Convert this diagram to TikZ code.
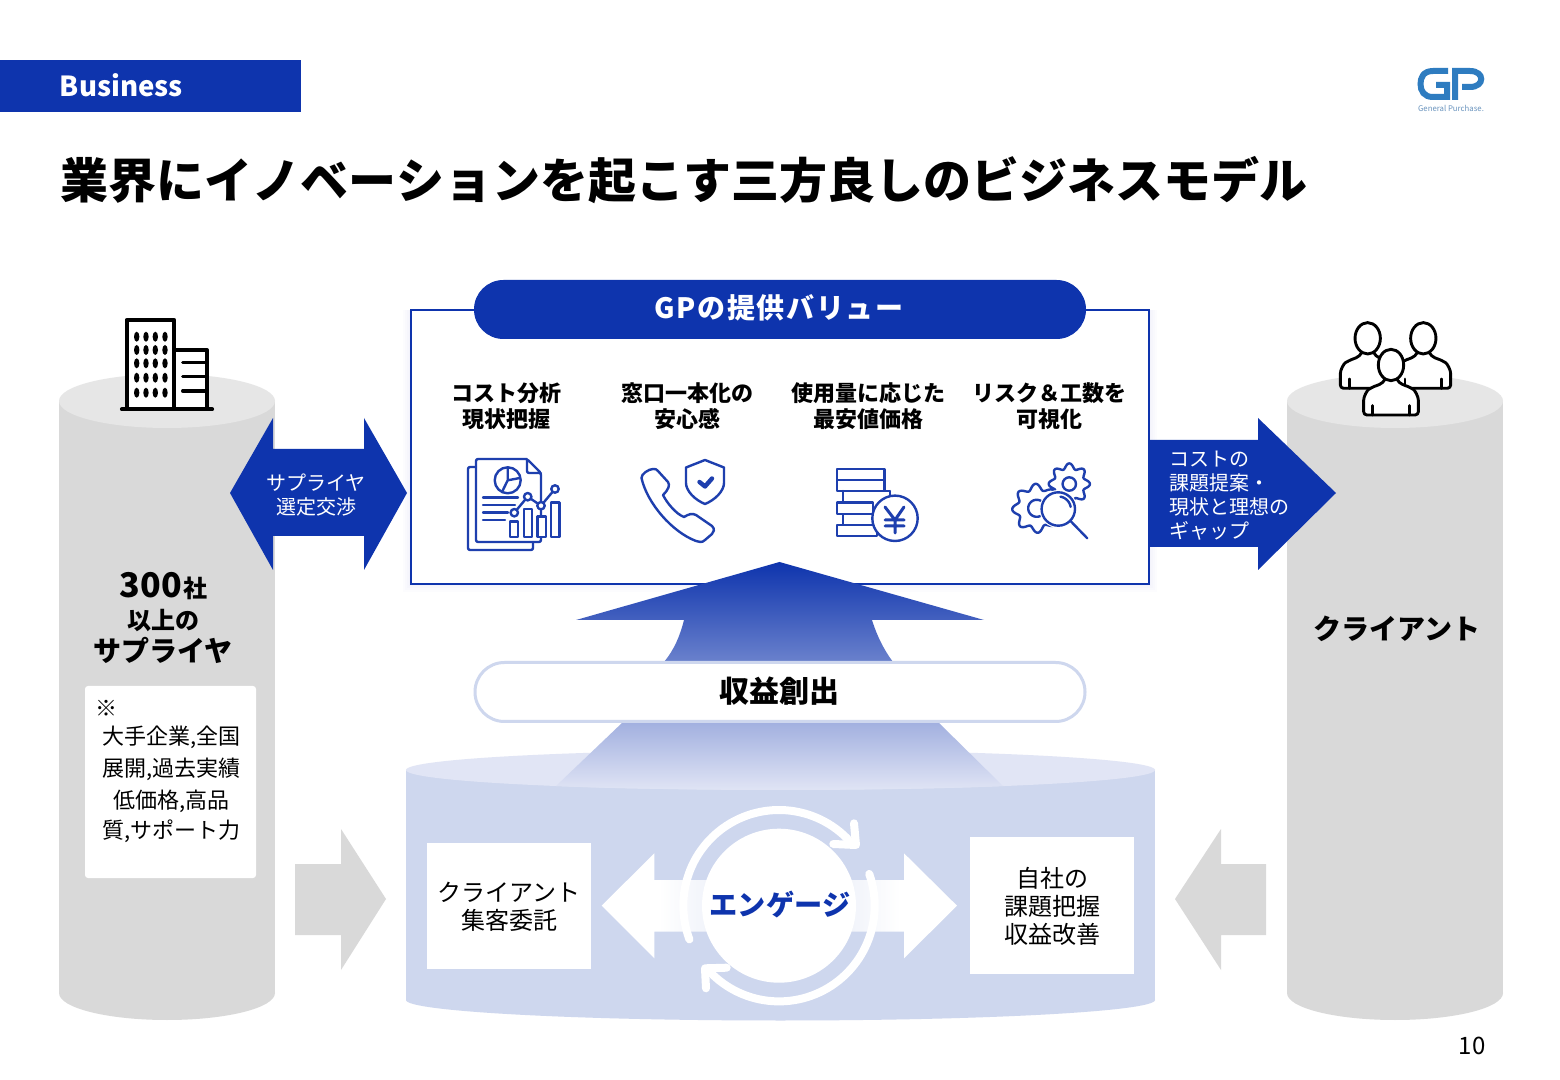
\documentclass[tikz,border=0pt]{standalone}
\usepackage{fontspec}
\setmainfont{Noto Sans CJK JP}
\usetikzlibrary{calc}
\definecolor{gpblue}{HTML}{0E34AD}
\definecolor{cylbody}{HTML}{D9D9D9}
\definecolor{cyltop}{HTML}{E6E6E6}
\definecolor{lowbody}{HTML}{CED7EE}
\definecolor{lowtop}{HTML}{E1E5F5}
\definecolor{logoblue}{HTML}{2E7CC0}
\definecolor{logotext}{HTML}{6A94BE}
\definecolor{fademid}{HTML}{DDE3F3}
\definecolor{iconblue}{HTML}{1E3FAE}
\pgfdeclarehorizontalshading{arrowfade}{100bp}{color(0bp)=(white); color(33bp)=(white); color(50bp)=(fademid); color(67bp)=(white); color(100bp)=(white)}
\tikzset{
  txt/.style={inner sep=0pt,outer sep=0pt,align=center},
  ic/.style={draw=iconblue,line width=1.2pt,line join=round,line cap=round},
  ppl/.style={draw=black,line width=1.45pt,line join=round,line cap=round},
  ring/.style={draw=white,line width=4pt,line cap=round,line join=round},
}
\newcommand{\cyl}[4]{%
  \fill[#4] (#1-108,#2) rectangle (#1+108,#3);
  \fill[#4] (#1,#3) ellipse (108 and 27);
}
\newcommand{\gpperson}[2]{%
\begin{scope}[shift={(#1,#2)},x=0.16667pt,y=-0.16667pt]
  \filldraw[ppl,fill=white,rounded corners=1.6pt] (-18,43) .. controls (-25,58) and (-45,62) .. (-58,68) .. controls (-72,76) and (-82,95) .. (-82,115) -- (-82,150) -- (82,150) -- (82,115) .. controls (82,95) and (72,76) .. (58,68) .. controls (45,62) and (25,58) .. (18,43);
  \filldraw[ppl,fill=white] (0,0) ellipse (38 and 47);
  \draw[ppl] (-55,122) -- (-55,150) (55,122) -- (55,150);
\end{scope}}
\begin{document}
\begin{tikzpicture}[x=0.5pt,y=-0.5pt]
\useasboundingbox (0,0) rectangle (1560,1080);
\fill[white] (0,0) rectangle (1560,1080);
% header
\fill[gpblue] (0,60) rectangle (301,112);
\node[txt,anchor=west,text=white,font=\fontsize{13.8}{18}\selectfont\bfseries] (hdr) at (60,85.5) {Business};
\node[txt,anchor=west,font=\fontsize{24}{28}\selectfont\bfseries] (title) at (61,180) {業界にイノベーションを起こす三方良しのビジネスモデル};
% logo
\draw[logoblue,line width=3pt] (1448,71) -- (1433,71) .. controls (1423,71) and (1420.5,78) .. (1420.5,84) .. controls (1420.5,91) and (1424,97) .. (1433,97) -- (1447,97) -- (1447,85) -- (1436,85);
\draw[logoblue,line width=3pt] (1455,100) -- (1455,71) -- (1470,71) .. controls (1485,71) and (1485,87) .. (1470,87) -- (1462,87);
\node[txt,text=logotext,font=\fontsize{3.9}{5}\selectfont] (logotxt) at (1451,108) {General Purchase.};
% cylinders
\cyl{167}{401}{993}{cylbody}
\fill[cyltop] (167,401) ellipse (108 and 27);
\cyl{1395}{401}{993}{cylbody}
\fill[cyltop] (1395,401) ellipse (108 and 27);
% lower cylinder
\fill[lowbody] (406,770) rectangle (1155,1000);
\fill[lowbody] (780.5,1000) ellipse (374.5 and 20.5);
\fill[lowtop] (780.5,770) ellipse (374.5 and 20);
% value box
\foreach \d in {2,4,6,8}{\fill[gpblue,opacity=.012] (411-\d,310) rectangle (1149+\d,584+\d);}
\filldraw[draw=gpblue,fill=white,line width=1pt] (411,310) rectangle (1149,584);
% big arrow
\shade[top color=gpblue,bottom color=lowtop] (779.5,562) -- (984,620) -- (872,620) .. controls (877,636) and (884,650) .. (893,662) -- (938,722) -- (1003,786) .. controls (900,791) and (660,791) .. (556,786) -- (623,722) -- (664,662) .. controls (674,650) and (680,636) .. (684,620) -- (576,620) -- cycle;
% pills
\node[fill=gpblue,rounded corners=14.7pt,minimum width=306pt,minimum height=29.5pt,inner sep=0pt,outer sep=0pt] (valpill) at (780,309.5) {};
\node[txt,text=white,font=\fontsize{14}{16}\selectfont\bfseries] (valtxt) at (779,308) {\addfontfeature{LetterSpace=6}GPの提供バリュー};
\node[draw=lowbody,line width=1.5pt,fill=white,rounded corners=14.7pt,minimum width=305pt,minimum height=29.5pt,inner sep=0pt,outer sep=0pt] (profit) at (780,692) {};
\node[txt,font=\fontsize{15}{16}\selectfont\bfseries] (profittxt) at (779,691) {収益創出};
% item headings
\node[txt,font=\fontsize{11}{13}\selectfont\bfseries] (h1) at (506,406) {コスト分析\\現状把握};
\node[txt,font=\fontsize{11}{13}\selectfont\bfseries] (h2) at (687,406) {窓口一本化の\\安心感};
\node[txt,font=\fontsize{11}{13}\selectfont\bfseries] (h3) at (868,406) {使用量に応じた\\最安値価格};
\node[txt,font=\fontsize{11}{13}\selectfont\bfseries] (h4) at (1049,406) {リスク＆工数を\\可視化};
% document icon
\draw[ic,rounded corners=1pt] (476,467) -- (468,467) -- (468,550) -- (533,550) -- (533,542);
\draw[ic,rounded corners=1pt] (527,459) -- (476,459) -- (476,542) -- (541,542) -- (541,473) -- (527,459) -- (527,473) -- (541,473);
\draw[ic] (507.7,480.3) circle (13);
\draw[ic] (507.7,480.3) -- (507.7,467.3) (507.7,480.3) -- (520,478) (507.7,480.3) -- (502,492);
\draw[ic] (483,497.7) -- (518,497.7) (483,505) -- (515,505) (483,512.7) -- (508,512.7) (483,520) -- (505,520);
\filldraw[ic,fill=white] (510,521.7) rectangle (518,537);
\filldraw[ic,fill=white] (524,509) rectangle (532,537);
\filldraw[ic,fill=white] (537.3,516.7) rectangle (545.7,537);
\filldraw[ic,fill=white] (551,502.7) rectangle (559.3,537);
\draw[ic] (514.3,512.7) -- (527.7,496.7) -- (541,505.7) -- (555,489);
\filldraw[ic,fill=white] (514.3,512.7) circle (3.7);
\filldraw[ic,fill=white] (527.7,496.7) circle (3.7);
\filldraw[ic,fill=white] (541,505.7) circle (3.7);
\filldraw[ic,fill=white] (555,489) circle (3.7);
% phone icon
\draw[ic] (641.5,478) .. controls (641,474) and (649,469) .. (653,469) .. controls (655,468) and (657,470) .. (658,471) -- (668,482) .. controls (670,485) and (669,489) .. (663,495) .. controls (667,503) and (676,514) .. (684,517) .. controls (689,514) and (692,513) .. (696,515) -- (712,526) .. controls (715,529) and (714,532) .. (712,534) -- (705,540) .. controls (702,543) and (699,542) .. (696,541) .. controls (672,532) and (647,503) .. (641.5,478) -- cycle;
\draw[ic] (705,460) -- (724,467.5) -- (724,483) .. controls (724,491) and (715,500) .. (705,504) .. controls (695,500) and (686,491) .. (686,483) -- (686,467.5) -- cycle;
\draw[ic,line width=2.2pt] (699.5,482) -- (705,486.5) -- (712,478.5);
% coin icon
\draw[ic] (837,469) rectangle (884.3,480) (837,480) rectangle (884.3,491);
\draw[ic] (843,491) -- (843,502.7) (890,491) -- (843,491) (890,491) -- (890,496);
\draw[ic] (837,502.7) rectangle (873,514) (843,514) rectangle (873,525) (837,525) rectangle (877,536);
\filldraw[ic,fill=white] (895,518.3) circle (22.7);
\draw[ic,line width=1.5pt] (885,507) -- (895,520) -- (904,507) (895,520) -- (895,533) (885,520) -- (904,520) (885,526) -- (904,526);
% gears icon
\filldraw[ic,fill=white] plot[domain=0:360,samples=145] ({1069.3+(18+2.6*cos(8*\x))*cos(\x)},{484+(18+2.6*cos(8*\x))*sin(\x)}) -- cycle;
\draw[ic] (1069.3,484) circle (6.7);
\filldraw[ic,fill=white] plot[domain=0:360,samples=145] ({1036.7+(21.5+3*cos(8*\x+20))*cos(\x)},{508.3+(21.5+3*cos(8*\x+20))*sin(\x)}) -- cycle;
\draw[ic] plot[domain=60:300,samples=40] ({1036.7+8.5*cos(\x)},{508.3+8.5*sin(\x)});
\fill[white] (1058.3,509) circle (19);
\draw[ic] (1058.3,509) circle (16.7);
\draw[ic] plot[domain=-80:-10,samples=15] ({1058.3+12.5*cos(\x)},{509+12.5*sin(\x)});
\draw[ic] (1070.3,520.8) -- (1087.3,538.3);
% building
\filldraw[draw=black,fill=white,line width=2pt,line join=round] (126.7,409) -- (126.7,320) -- (174.3,320) -- (174.3,409) -- cycle;
\filldraw[draw=black,fill=white,line width=2pt,line join=round] (174.3,350) -- (207,350) -- (207,409) -- (174.3,409) -- cycle;
\draw[black,line width=2.1pt,line cap=round] (122,409.3) -- (212,409.3);
\foreach \wx in {136.7,146,155.3,165}{\foreach \wy in {336.7,350,363.3,377.7,392.7}{\fill[black] (\wx,\wy) ellipse (2.7 and 5);}}
\draw[black,line width=1.7pt,line cap=round] (182.7,362.3) -- (207,362.3) (182.7,376.7) -- (207,376.7) (182.7,391) -- (207,391);
% people
\gpperson{1367.7}{338.3}
\gpperson{1423.3}{338.3}
\gpperson{1391}{365}
% left text
\node[txt,anchor=base east,font=\fontsize{17}{20}\selectfont\bfseries] (n300) at (182,598) {300};
\node[txt,anchor=base west,font=\fontsize{12}{14}\selectfont\bfseries] (nsha) at (183,598) {社};
\node[txt,font=\fontsize{12}{14}\selectfont\bfseries] (ijo) at (163,620.5) {以上の};
\node[txt,font=\fontsize{14}{16}\selectfont\bfseries] (sup) at (163,650) {サプライヤ};
\node[fill=white,rounded corners=1.5pt,minimum width=85.5pt,minimum height=96pt,inner sep=0pt,outer sep=0pt] (supbox) at (170.5,782) {};
\node[txt,font=\fontsize{11}{13}\selectfont] (kome) at (106,708) {※};
\node[txt,font=\fontsize{11}{13}\selectfont] (l1) at (171.5,737) {大手企業,全国};
\node[txt,font=\fontsize{11}{13}\selectfont] (l2) at (171.5,769) {展開,過去実績};
\node[txt,font=\fontsize{11}{13}\selectfont] (l3) at (171.5,801) {低価格,高品};
\node[txt,font=\fontsize{11}{13}\selectfont] (l4) at (171.5,831) {質,サポート力};
\node[txt,font=\fontsize{14}{16}\selectfont\bfseries] (cli) at (1397,629) {クライアント};
% blue arrows
\fill[gpblue] (230,493) -- (273,418) -- (273,449) -- (364,449) -- (364,418) -- (407,493) -- (364,570) -- (364,536) -- (273,536) -- (273,570) -- cycle;
\node[txt,text=white,font=\fontsize{10}{12.3}\selectfont] (supneg) at (316,495) {サプライヤ\\選定交渉};
\fill[gpblue] (1149,440) -- (1258,440) -- (1258,418) -- (1336,493) -- (1258,570) -- (1258,547) -- (1149,547) -- cycle;
\node[txt,text=white,align=left,anchor=west,font=\fontsize{10}{12}\selectfont] (gap) at (1169.5,496) {コストの\\課題提案・\\現状と理想の\\ギャップ};
% grey arrows
\fill[cylbody] (295,864) -- (341,864) -- (341,829) -- (386,899) -- (341,970) -- (341,935) -- (295,935) -- cycle;
\fill[cylbody] (1266,864) -- (1221,864) -- (1221,829) -- (1175,899) -- (1221,970) -- (1221,935) -- (1266,935) -- cycle;
% lower double arrow
\shade[shading=arrowfade] (601.7,905.7) -- (654.3,853.3) -- (654.3,880) -- (904,880) -- (904,853.3) -- (957,905.7) -- (904,958.3) -- (904,931.7) -- (654.3,931.7) -- (654.3,958.3) -- cycle;
% rings and circle
\draw[ring] plot[domain=200.6:42.8,samples=60] ({779+95.7*cos(\x)},{905.7-95.7*sin(\x)});
\draw[ring] (854,823.3) -- (856,845) -- (833.3,844);
\draw[ring] plot[domain=19.4:-136,samples=60] ({779+95.7*cos(\x)},{905.7-95.7*sin(\x)});
\draw[ring] (726.7,967.7) -- (705,968.3) -- (706,988.3);
\fill[white] (779,905.7) circle (77);
\node[txt,text=gpblue,font=\fontsize{14.1}{16}\selectfont\bfseries] (eng) at (780,905) {エンゲージ};
% lower white boxes
\node[fill=white,minimum width=82pt,minimum height=63pt,inner sep=0pt,outer sep=0pt] (lb) at (509,906) {};
\node[txt,font=\fontsize{12}{14}\selectfont] (lbt) at (509,907) {クライアント\\集客委託};
\node[fill=white,minimum width=82pt,minimum height=68.5pt,inner sep=0pt,outer sep=0pt] (rb) at (1052,905.5) {};
\node[txt,font=\fontsize{12}{14}\selectfont] (rbt) at (1052,906) {自社の\\課題把握\\収益改善};
% page
\node[txt,font=\fontsize{12}{14}\selectfont] (page) at (1472,1046) {10};
\end{tikzpicture}
\end{document}
